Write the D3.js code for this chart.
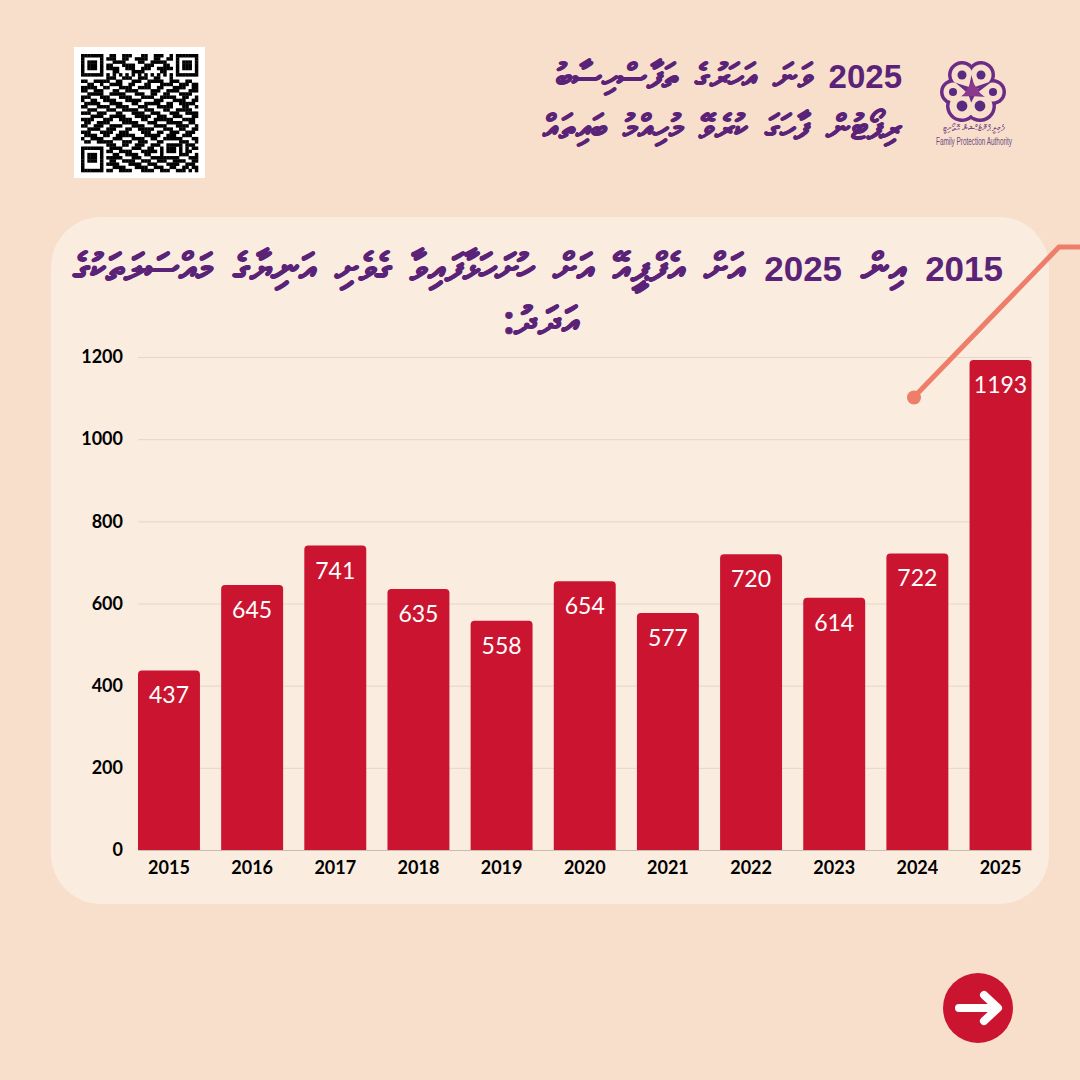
<!DOCTYPE html>
<html>
<head>
<meta charset="utf-8">
<script src="https://cdn.jsdelivr.net/npm/d3@7"></script>
<style>
html,body{margin:0;padding:0;background:#f7dfcc}
svg{display:block}
</style>
</head>
<body>
<svg id="chart" width="1080" height="1080"></svg>
<script>
/************************************ Data *******************************/
var years = ["2015","2016","2017","2018","2019","2020","2021","2022","2023","2024","2025"];
var cases = [437,645,741,635,558,654,577,720,614,722,1193];
var yTicks = [0,200,400,600,800,1000,1200];
var headLines = ["2025 ވަނަ އަހަރުގެ ތަފާސްހިސާބު","ރިޕޯޓުން ފާހަގަ ކުރެވޭ މުހިއްމު ބައިތައް"];
var titleLines = ["2015 އިން 2025 އަށް އެފްޕީއޭ އަށް ހުށަހަޅާފައިވާ ގެވެށި އަނިޔާގެ މައްސަލަތަކުގެ","އަދަދު:"];
var logoDhivehi = "ފެމިލީ ޕްރޮޓެކްޝަން އޮތޯރިޓީ";
var logoEnglish = "Family Protection Authority";
// QR picture
var qrRows = [
"1111111001100111000110011100101111111",
"1000001011100110011110011001101000001",
"1011101000111100001100111110001011101",
"1011101011000111100011100011001011101",
"1011101011110011100111001111101011101",
"1000001000110000111100000110001000001",
"1111111010101010101010101010101111111",
"0000000011100111001110011000100000000",
"1100111110011000111001111100111001100",
"0011001001111001100011000111100111011",
"1111100110001111001111001100011110011",
"1100111000110011110000111001111000111",
"0011111001111100011100110011000111100",
"1110001110001111000111100111110011001",
"1001100111100011111000011100011110011",
"0111110001111000110011111001100111110",
"1100011110011110001110001111100011001",
"0011100011100111110011100011001111100",
"1110011100011000111100111000111001111",
"0001111001111100011111001110011100011",
"1111000111001111000110011111100011110",
"0110011110000111110001110001111100110",
"1100111001111000111100011110001111001",
"0011110011100011001111100011100110011",
"1110001111001110000111001100111001110",
"0111100110011111100011111001110011100",
"1001111000111000111100110011111100011",
"0110011111000111001110001100000111001",
"0000000011100110011100111001111101110",
"1111111001111000111001100101110101011",
"1000001011001111000111110101110101100",
"1011101000110011110011000100000111001",
"1011101011111000111000111111111000111",
"1011101001100111100111001110011110011",
"1000001011110001111001110001111001110",
"1000001000111100011110011100110011011",
"1111111011001111000111100111001110101"
];

/************************************ Page *******************************/
var svg = d3.select("#chart");
var purple = "#5a2378";
var dv = "'Noto Sans',sans-serif";

svg.append("rect").attr("width",1080).attr("height",1080).attr("fill","#f7dfcc");
svg.append("rect").attr("x",51).attr("y",217).attr("width",998).attr("height",687).attr("rx",50).attr("fill","#faecdf");

// text with the digits split off in their own font
function thaana(sel,size,digitSize,spacing){
	sel.attr("font-family",dv).attr("font-size",size).attr("font-weight",700).attr("fill",purple)
		.attr("direction","rtl").attr("word-spacing",spacing)
		.each(function(d){
			var t=d3.select(this);
			d.split(/(\d+)/).forEach(function(p){
				if(!p) return;
				var s=t.append("tspan").text(p);
				if(/\d/.test(p)) s.attr("font-family","'Liberation Sans'").attr("font-size",digitSize);
				else s.attr("stroke",purple).attr("stroke-width",0.7).attr("stroke-linejoin","round");
			});
		});
}
svg.selectAll("text.head").data(headLines).enter().append("text").attr("class","head")
	.attr("x",902).attr("y",function(d,i){return 88+i*51})
	.call(thaana,34,33,8);
svg.selectAll("text.title").data(titleLines).enter().append("text").attr("class","title")
	.attr("x",function(d,i){return i==0?1003:542}).attr("y",function(d,i){return i==0?281:334})
	.attr("text-anchor",function(d,i){return i==0?"start":"middle"})
	.call(thaana,38.5,35,9);

/************************************ QR *******************************/
svg.append("rect").attr("x",74).attr("y",47).attr("width",131).attr("height",131).attr("fill","#fff");
var qrX = d3.scaleBand().domain(d3.range(37)).range([81,198]);
var qrY = d3.scaleBand().domain(d3.range(37)).range([54,172]);
var qrCells = [];
qrRows.forEach(function(row,r){
	row.split("").forEach(function(c,i){ if(c=="1") qrCells.push([i,r]); });
});
svg.append("g").selectAll("rect").data(qrCells).enter().append("rect")
	.attr("x",function(d){return qrX(d[0])}).attr("y",function(d){return qrY(d[1])})
	.attr("width",qrX.bandwidth()+0.3).attr("height",qrY.bandwidth()+0.3).attr("fill","#000");

/************************************ Logo *******************************/
var logo = svg.append("g");
var logoC = [972,92];
var petals = [[962,75,10],[981,75,10],[993,92,9],[980,106,12],[962,106,12],[953,92,9]];
function tearDrop(d,r,k){
	var dx=logoC[0]-d[0], dy=logoC[1]-d[1], a=Math.atan2(dy,dx), l=Math.sqrt(dx*dx+dy*dy)*k;
	var tx=d[0]+Math.cos(a)*l, ty=d[1]+Math.sin(a)*l;
	var p1=[d[0]+Math.cos(a+1.3)*r,d[1]+Math.sin(a+1.3)*r], p2=[d[0]+Math.cos(a-1.3)*r,d[1]+Math.sin(a-1.3)*r];
	return "M"+tx+","+ty+"L"+p1[0]+","+p1[1]+"A"+r+","+r+" 0 1 1 "+p2[0]+","+p2[1]+"Z";
}
logo.selectAll("path.o").data(petals).enter().append("path").attr("class","o")
	.attr("d",function(d){return tearDrop(d,d[2]+4,0.9)}).attr("fill","#6b2c86");
logo.selectAll("path.c").data(petals).enter().append("path").attr("class","c")
	.attr("d",function(d){return tearDrop(d,d[2]+0.5,0.7)}).attr("fill","#f7dfcc");
logo.selectAll("circle.d").data(petals).enter().append("circle").attr("class","d")
	.attr("cx",function(d){return d[0]}).attr("cy",function(d){return d[1]})
	.attr("r",function(d){return d[2]*0.45}).attr("fill","#5a2a80");
logo.append("path").attr("d","M972,81L982,96H963Z").attr("fill","#8a3a8c");
logo.append("text").attr("x",974).attr("y",131).attr("text-anchor","middle").attr("direction","rtl")
	.attr("font-family",dv).attr("font-size",8).attr("fill","#7a4a80").text(logoDhivehi);
logo.append("text").attr("x",936).attr("y",145).attr("textLength",76).attr("lengthAdjust","spacingAndGlyphs")
	.attr("font-family","'Liberation Sans'").attr("font-size",10).attr("fill","#6f4a80").text(logoEnglish);

/************************************ Chart *******************************/
var y = d3.scaleLinear().domain([0,1200]).range([850,357]);
var x = d3.scaleBand().domain(years).range([138,1031.5]).paddingInner(0.255);

var axisY = svg.append("g").attr("transform","translate(138,0)")
	.call(d3.axisLeft(y).tickValues(yTicks).tickFormat(d3.format("d")).tickSize(-893.5).tickPadding(15));
axisY.select(".domain").remove();
axisY.selectAll("line").attr("stroke","#e4d6c9");
axisY.selectAll("text").attr("font-family","Lato").attr("font-size",18).attr("font-weight",700).attr("fill","#000");

var axisX = svg.append("g").attr("transform","translate(0,850)")
	.call(d3.axisBottom(x).tickSize(0).tickPadding(11));
axisX.select(".domain").attr("stroke","#c9bdb1");
axisX.selectAll("text").attr("font-family","Lato").attr("font-size",18).attr("font-weight",700).attr("fill","#000");

function barPath(d){
	var x0=x(d.year), w=x.bandwidth(), t=y(d.value), b=y(0), r=4;
	return "M"+x0+","+b+"V"+(t+r)+"Q"+x0+","+t+" "+(x0+r)+","+t+"H"+(x0+w-r)+"Q"+(x0+w)+","+t+" "+(x0+w)+","+(t+r)+"V"+b+"Z";
}
var rows = years.map(function(d,i){return {year:d,value:cases[i]}});
svg.selectAll("path.bar").data(rows).enter().append("path").attr("class","bar").attr("d",barPath).attr("fill","#cb1530");
svg.selectAll("text.val").data(rows).enter().append("text").attr("class","val")
	.attr("x",function(d){return x(d.year)+x.bandwidth()/2})
	.attr("y",function(d){return y(d.value)+33})
	.attr("text-anchor","middle").attr("font-family","Lato").attr("font-size",23).attr("fill","#fff")
	.text(function(d){return d.value});

/************************************ Decoration *******************************/
svg.append("path").attr("d","M914,397L1059,247H1080").attr("fill","none").attr("stroke","#ee7d6a").attr("stroke-width",5);
svg.append("circle").attr("cx",914).attr("cy",397.5).attr("r",7).attr("fill","#ee7d6a");
svg.append("circle").attr("cx",978).attr("cy",1008).attr("r",35).attr("fill","#cb1530");
svg.append("path").attr("d","M959,1008H997M984,995L998,1008L984,1021").attr("fill","none").attr("stroke","#fff")
	.attr("stroke-width",8).attr("stroke-linecap","round").attr("stroke-linejoin","round");
</script>
</body>
</html>
